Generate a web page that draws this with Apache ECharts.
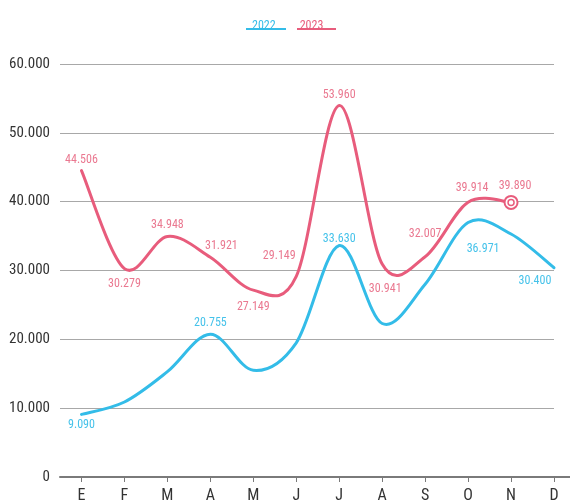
<!DOCTYPE html>
<html lang="es">
<head>
    <meta charset="UTF-8">
    <title>Ventas 2022 / 2023</title>
    <script src="https://cdn.jsdelivr.net/npm/echarts@6/dist/echarts.min.js"></script>
</head>
<body style="margin:0">
<div id="main" style="width: 570px;height:500px;"></div>
<script type="text/javascript">
    var months = ['E', 'F', 'M', 'A', 'M', 'J', 'J', 'A', 'S', 'O', 'N', 'D'];
    var sales2022 = [9090, 10900, 15300, 20755, 15500, 19500, 33630, 22300, 28000, 36971, 35300, 30400];
    var sales2023 = [44506, 30279, 34948, 31921, 27149, 29149, 53960, 30941, 32007, 39914, 39890];
    var yTicks = [0, 10000, 20000, 30000, 40000, 50000, 60000];

    // label placement per point (styling only): [position, dx, dy], null = hidden
    var place2022 = [['bottom', 0, 0], null, null, ['top', 0, 0], null, null, ['top', 0, 4],
        null, null, ['bottom', 15, 15], null, ['bottom', -19, 2]];
    var place2023 = [['top', 0, 0], ['bottom', 0, 4], ['top', 0, 0], ['top', 11, 0], ['bottom', 0, 6],
        ['top', -17, -9], ['top', 0, 0], ['bottom', 3, 14], ['top', 0, -12], ['top', 4, -3], ['top', 4, 2]];

    var blue = '#33bce8';
    var pink = '#e85c7c';
    var font = 'Roboto Condensed, Roboto';

    function fmt(v) {
        return String(Math.round(v)).replace(/\B(?=(\d{3})+(?!\d))/g, '.');
    }

    function buildData(values, places, labelColor) {
        return values.map(function (v, i) {
            var p = places[i];
            var item = {value: [i, v]};
            if (p) {
                item.label = {show: true, position: p[0], offset: [p[1], p[2]], color: labelColor};
            } else {
                item.label = {show: false};
            }
            return item;
        });
    }

    // catmull-rom curve through the points (pixel coords from the axes)
    function curvePath(pts) {
        var d = 'M' + pts[0][0] + ',' + pts[0][1];
        for (var i = 0; i < pts.length - 1; i++) {
            var p0 = pts[i - 1] || pts[i];
            var p1 = pts[i];
            var p2 = pts[i + 1];
            var p3 = pts[i + 2] || pts[i + 1];
            var c1x = p1[0] + (p2[0] - p0[0]) / 6, c1y = p1[1] + (p2[1] - p0[1]) / 6;
            var c2x = p2[0] - (p3[0] - p1[0]) / 6, c2y = p2[1] - (p3[1] - p1[1]) / 6;
            d += ' C' + c1x + ',' + c1y + ' ' + c2x + ',' + c2y + ' ' + p2[0] + ',' + p2[1];
        }
        return d;
    }

    function curveSeries(name, values, color) {
        return {
            name: name,
            type: 'custom',
            coordinateSystem: 'cartesian2d',
            silent: true,
            z: 1,
            data: values.map(function (v, i) { return [i, v]; }),
            renderItem: function (params, api) {
                if (params.dataIndex !== 0) {
                    return null;
                }
                var pts = values.map(function (v, i) { return api.coord([i, v]); });
                return {
                    type: 'path',
                    shape: {pathData: curvePath(pts)},
                    style: {stroke: color, lineWidth: 3, fill: null, lineCap: 'round'}
                };
            }
        };
    }

    var data2022 = buildData(sales2022, place2022, '#45c2ea');
    var data2023 = buildData(sales2023, place2023, '#ea7890');
    var last = data2023.length - 1;
    data2023[last].symbolSize = 13;
    data2023[last].itemStyle = {color: '#fff', borderColor: pink, borderWidth: 2};

    var myChart = echarts.init(document.getElementById('main'));
    var option = {
        animation: false,
        textStyle: {fontFamily: font},
        legend: {
            left: 242,
            top: 15,
            itemWidth: 0,
            itemHeight: 0,
            itemGap: 19,
            selectedMode: false,
            textStyle: {fontSize: 12, fontFamily: font},
            data: [
                {name: '2022', textStyle: {color: blue}},
                {name: '2023', textStyle: {color: pink}}
            ]
        },
        grid: {
            left: 60,
            right: 16,
            top: 64,
            bottom: 23,
            containLabel: false,
            outerBoundsMode: 'none'
        },
        xAxis: {
            type: 'value',
            min: -0.5,
            max: 11,
            splitLine: {show: false},
            axisLine: {show: true, lineStyle: {color: '#7a7a7a', width: 2}},
            axisTick: {show: true, length: 5, customValues: months.map(function (m, i) { return i; }),
                lineStyle: {color: '#7a7a7a'}},
            axisLabel: {
                customValues: months.map(function (m, i) { return i; }),
                color: '#333',
                fontSize: 16,
                fontFamily: font,
                margin: 11,
                formatter: function (v) { return months[v]; }
            }
        },
        yAxis: {
            type: 'value',
            min: yTicks[0],
            max: yTicks[yTicks.length - 1],
            interval: yTicks[1] - yTicks[0],
            axisLine: {show: false},
            axisTick: {show: false},
            splitLine: {lineStyle: {color: '#a8a8a8', width: 1}},
            axisLabel: {
                color: '#333',
                fontSize: 15,
                fontFamily: font,
                margin: 10,
                formatter: function (v) { return fmt(v); }
            }
        },
        series: [
            curveSeries('2022', sales2022, blue),
            curveSeries('2023', sales2023, pink),
            {
                name: '2022',
                type: 'line',
                symbol: 'circle',
                symbolSize: 0,
                lineStyle: {width: 0, opacity: 0},
                itemStyle: {color: blue},
                label: {fontSize: 12, fontFamily: font, formatter: function (p) { return fmt(p.value[1]); }},
                z: 2,
                data: data2022
            },
            {
                name: '2023',
                type: 'line',
                symbol: 'circle',
                symbolSize: 0,
                lineStyle: {width: 0, opacity: 0},
                itemStyle: {color: pink},
                label: {fontSize: 12, fontFamily: font, formatter: function (p) { return fmt(p.value[1]); }},
                markPoint: {
                    silent: true,
                    label: {show: false},
                    data: [{
                        coord: [last, sales2023[last]],
                        symbol: 'circle',
                        symbolSize: 6,
                        itemStyle: {color: '#fff', borderColor: pink, borderWidth: 1.5}
                    }]
                },
                z: 3,
                data: data2023
            }
        ]
    };
    myChart.setOption(option);

    // legend underlines and the axis line running on to the right edge
    var p0 = myChart.convertToPixel({gridIndex: 0}, [11, 0]);
    myChart.setOption({
        graphic: [
            {type: 'rect', shape: {x: 246, y: 28, width: 40, height: 2}, style: {fill: blue}, silent: true},
            {type: 'rect', shape: {x: 297, y: 28, width: 39, height: 2}, style: {fill: pink}, silent: true},
            {type: 'line', shape: {x1: p0[0], y1: p0[1], x2: 570, y2: p0[1]},
                style: {stroke: '#7a7a7a', lineWidth: 2}, silent: true}
        ]
    });
</script>

</body>
</html>
